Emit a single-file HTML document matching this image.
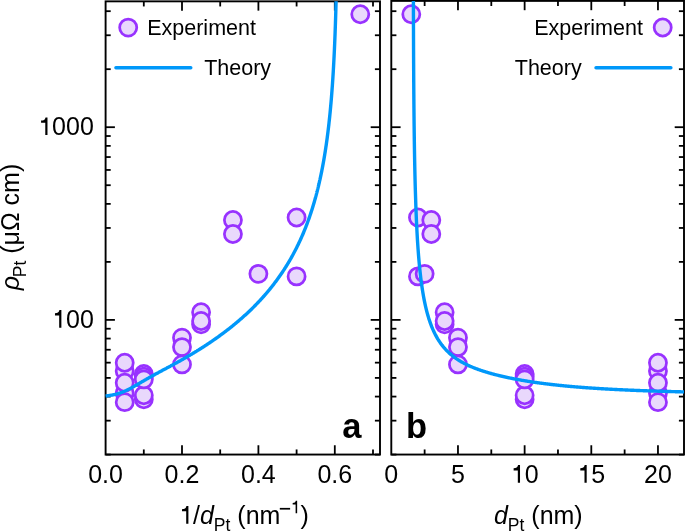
<!DOCTYPE html>
<html><head><meta charset="utf-8"><style>
html,body{margin:0;padding:0;background:#fff;}
body{width:685px;height:532px;overflow:hidden;font-family:"Liberation Sans",sans-serif;}
svg{display:block;will-change:transform;}
.one{fill:transparent;}
</style></head><body>
<svg width="685" height="532" viewBox="0 0 685 532">
<rect width="685" height="532" fill="#fff"/>
<defs>
<clipPath id="ca"><rect x="105.60" y="1.35" width="274.40" height="453.20"/></clipPath>
<clipPath id="cb"><rect x="391.30" y="0.90" width="292.70" height="453.65"/></clipPath>
<clipPath id="la"><rect x="104.8" y="1.35" width="275.20" height="453.20"/></clipPath>
</defs>
<line x1="105.60" y1="319.90" x2="114.90" y2="319.90" stroke="#000" stroke-width="1.8"/>
<line x1="380.00" y1="319.90" x2="370.70" y2="319.90" stroke="#000" stroke-width="1.8"/>
<line x1="105.60" y1="127.20" x2="114.90" y2="127.20" stroke="#000" stroke-width="1.8"/>
<line x1="380.00" y1="127.20" x2="370.70" y2="127.20" stroke="#000" stroke-width="1.8"/>
<line x1="105.60" y1="454.59" x2="110.70" y2="454.59" stroke="#000" stroke-width="1.8"/>
<line x1="380.00" y1="454.59" x2="374.90" y2="454.59" stroke="#000" stroke-width="1.8"/>
<line x1="105.60" y1="420.66" x2="110.70" y2="420.66" stroke="#000" stroke-width="1.8"/>
<line x1="380.00" y1="420.66" x2="374.90" y2="420.66" stroke="#000" stroke-width="1.8"/>
<line x1="105.60" y1="396.58" x2="110.70" y2="396.58" stroke="#000" stroke-width="1.8"/>
<line x1="380.00" y1="396.58" x2="374.90" y2="396.58" stroke="#000" stroke-width="1.8"/>
<line x1="105.60" y1="377.91" x2="110.70" y2="377.91" stroke="#000" stroke-width="1.8"/>
<line x1="380.00" y1="377.91" x2="374.90" y2="377.91" stroke="#000" stroke-width="1.8"/>
<line x1="105.60" y1="362.65" x2="110.70" y2="362.65" stroke="#000" stroke-width="1.8"/>
<line x1="380.00" y1="362.65" x2="374.90" y2="362.65" stroke="#000" stroke-width="1.8"/>
<line x1="105.60" y1="349.75" x2="110.70" y2="349.75" stroke="#000" stroke-width="1.8"/>
<line x1="380.00" y1="349.75" x2="374.90" y2="349.75" stroke="#000" stroke-width="1.8"/>
<line x1="105.60" y1="338.57" x2="110.70" y2="338.57" stroke="#000" stroke-width="1.8"/>
<line x1="380.00" y1="338.57" x2="374.90" y2="338.57" stroke="#000" stroke-width="1.8"/>
<line x1="105.60" y1="328.72" x2="110.70" y2="328.72" stroke="#000" stroke-width="1.8"/>
<line x1="380.00" y1="328.72" x2="374.90" y2="328.72" stroke="#000" stroke-width="1.8"/>
<line x1="105.60" y1="261.89" x2="110.70" y2="261.89" stroke="#000" stroke-width="1.8"/>
<line x1="380.00" y1="261.89" x2="374.90" y2="261.89" stroke="#000" stroke-width="1.8"/>
<line x1="105.60" y1="227.96" x2="110.70" y2="227.96" stroke="#000" stroke-width="1.8"/>
<line x1="380.00" y1="227.96" x2="374.90" y2="227.96" stroke="#000" stroke-width="1.8"/>
<line x1="105.60" y1="203.88" x2="110.70" y2="203.88" stroke="#000" stroke-width="1.8"/>
<line x1="380.00" y1="203.88" x2="374.90" y2="203.88" stroke="#000" stroke-width="1.8"/>
<line x1="105.60" y1="185.21" x2="110.70" y2="185.21" stroke="#000" stroke-width="1.8"/>
<line x1="380.00" y1="185.21" x2="374.90" y2="185.21" stroke="#000" stroke-width="1.8"/>
<line x1="105.60" y1="169.95" x2="110.70" y2="169.95" stroke="#000" stroke-width="1.8"/>
<line x1="380.00" y1="169.95" x2="374.90" y2="169.95" stroke="#000" stroke-width="1.8"/>
<line x1="105.60" y1="157.05" x2="110.70" y2="157.05" stroke="#000" stroke-width="1.8"/>
<line x1="380.00" y1="157.05" x2="374.90" y2="157.05" stroke="#000" stroke-width="1.8"/>
<line x1="105.60" y1="145.87" x2="110.70" y2="145.87" stroke="#000" stroke-width="1.8"/>
<line x1="380.00" y1="145.87" x2="374.90" y2="145.87" stroke="#000" stroke-width="1.8"/>
<line x1="105.60" y1="136.02" x2="110.70" y2="136.02" stroke="#000" stroke-width="1.8"/>
<line x1="380.00" y1="136.02" x2="374.90" y2="136.02" stroke="#000" stroke-width="1.8"/>
<line x1="105.60" y1="69.19" x2="110.70" y2="69.19" stroke="#000" stroke-width="1.8"/>
<line x1="380.00" y1="69.19" x2="374.90" y2="69.19" stroke="#000" stroke-width="1.8"/>
<line x1="105.60" y1="35.26" x2="110.70" y2="35.26" stroke="#000" stroke-width="1.8"/>
<line x1="380.00" y1="35.26" x2="374.90" y2="35.26" stroke="#000" stroke-width="1.8"/>
<line x1="105.60" y1="11.18" x2="110.70" y2="11.18" stroke="#000" stroke-width="1.8"/>
<line x1="380.00" y1="11.18" x2="374.90" y2="11.18" stroke="#000" stroke-width="1.8"/>
<line x1="391.30" y1="319.90" x2="400.60" y2="319.90" stroke="#000" stroke-width="1.8"/>
<line x1="684.00" y1="319.90" x2="674.70" y2="319.90" stroke="#000" stroke-width="1.8"/>
<line x1="391.30" y1="127.20" x2="400.60" y2="127.20" stroke="#000" stroke-width="1.8"/>
<line x1="684.00" y1="127.20" x2="674.70" y2="127.20" stroke="#000" stroke-width="1.8"/>
<line x1="391.30" y1="454.59" x2="396.40" y2="454.59" stroke="#000" stroke-width="1.8"/>
<line x1="684.00" y1="454.59" x2="678.90" y2="454.59" stroke="#000" stroke-width="1.8"/>
<line x1="391.30" y1="420.66" x2="396.40" y2="420.66" stroke="#000" stroke-width="1.8"/>
<line x1="684.00" y1="420.66" x2="678.90" y2="420.66" stroke="#000" stroke-width="1.8"/>
<line x1="391.30" y1="396.58" x2="396.40" y2="396.58" stroke="#000" stroke-width="1.8"/>
<line x1="684.00" y1="396.58" x2="678.90" y2="396.58" stroke="#000" stroke-width="1.8"/>
<line x1="391.30" y1="377.91" x2="396.40" y2="377.91" stroke="#000" stroke-width="1.8"/>
<line x1="684.00" y1="377.91" x2="678.90" y2="377.91" stroke="#000" stroke-width="1.8"/>
<line x1="391.30" y1="362.65" x2="396.40" y2="362.65" stroke="#000" stroke-width="1.8"/>
<line x1="684.00" y1="362.65" x2="678.90" y2="362.65" stroke="#000" stroke-width="1.8"/>
<line x1="391.30" y1="349.75" x2="396.40" y2="349.75" stroke="#000" stroke-width="1.8"/>
<line x1="684.00" y1="349.75" x2="678.90" y2="349.75" stroke="#000" stroke-width="1.8"/>
<line x1="391.30" y1="338.57" x2="396.40" y2="338.57" stroke="#000" stroke-width="1.8"/>
<line x1="684.00" y1="338.57" x2="678.90" y2="338.57" stroke="#000" stroke-width="1.8"/>
<line x1="391.30" y1="328.72" x2="396.40" y2="328.72" stroke="#000" stroke-width="1.8"/>
<line x1="684.00" y1="328.72" x2="678.90" y2="328.72" stroke="#000" stroke-width="1.8"/>
<line x1="391.30" y1="261.89" x2="396.40" y2="261.89" stroke="#000" stroke-width="1.8"/>
<line x1="684.00" y1="261.89" x2="678.90" y2="261.89" stroke="#000" stroke-width="1.8"/>
<line x1="391.30" y1="227.96" x2="396.40" y2="227.96" stroke="#000" stroke-width="1.8"/>
<line x1="684.00" y1="227.96" x2="678.90" y2="227.96" stroke="#000" stroke-width="1.8"/>
<line x1="391.30" y1="203.88" x2="396.40" y2="203.88" stroke="#000" stroke-width="1.8"/>
<line x1="684.00" y1="203.88" x2="678.90" y2="203.88" stroke="#000" stroke-width="1.8"/>
<line x1="391.30" y1="185.21" x2="396.40" y2="185.21" stroke="#000" stroke-width="1.8"/>
<line x1="684.00" y1="185.21" x2="678.90" y2="185.21" stroke="#000" stroke-width="1.8"/>
<line x1="391.30" y1="169.95" x2="396.40" y2="169.95" stroke="#000" stroke-width="1.8"/>
<line x1="684.00" y1="169.95" x2="678.90" y2="169.95" stroke="#000" stroke-width="1.8"/>
<line x1="391.30" y1="157.05" x2="396.40" y2="157.05" stroke="#000" stroke-width="1.8"/>
<line x1="684.00" y1="157.05" x2="678.90" y2="157.05" stroke="#000" stroke-width="1.8"/>
<line x1="391.30" y1="145.87" x2="396.40" y2="145.87" stroke="#000" stroke-width="1.8"/>
<line x1="684.00" y1="145.87" x2="678.90" y2="145.87" stroke="#000" stroke-width="1.8"/>
<line x1="391.30" y1="136.02" x2="396.40" y2="136.02" stroke="#000" stroke-width="1.8"/>
<line x1="684.00" y1="136.02" x2="678.90" y2="136.02" stroke="#000" stroke-width="1.8"/>
<line x1="391.30" y1="69.19" x2="396.40" y2="69.19" stroke="#000" stroke-width="1.8"/>
<line x1="684.00" y1="69.19" x2="678.90" y2="69.19" stroke="#000" stroke-width="1.8"/>
<line x1="391.30" y1="35.26" x2="396.40" y2="35.26" stroke="#000" stroke-width="1.8"/>
<line x1="684.00" y1="35.26" x2="678.90" y2="35.26" stroke="#000" stroke-width="1.8"/>
<line x1="391.30" y1="11.18" x2="396.40" y2="11.18" stroke="#000" stroke-width="1.8"/>
<line x1="684.00" y1="11.18" x2="678.90" y2="11.18" stroke="#000" stroke-width="1.8"/>
<line x1="182.00" y1="454.55" x2="182.00" y2="445.25" stroke="#000" stroke-width="1.8"/>
<line x1="182.00" y1="1.35" x2="182.00" y2="10.65" stroke="#000" stroke-width="1.8"/>
<line x1="258.40" y1="454.55" x2="258.40" y2="445.25" stroke="#000" stroke-width="1.8"/>
<line x1="258.40" y1="1.35" x2="258.40" y2="10.65" stroke="#000" stroke-width="1.8"/>
<line x1="334.80" y1="454.55" x2="334.80" y2="445.25" stroke="#000" stroke-width="1.8"/>
<line x1="334.80" y1="1.35" x2="334.80" y2="10.65" stroke="#000" stroke-width="1.8"/>
<line x1="143.80" y1="454.55" x2="143.80" y2="449.45" stroke="#000" stroke-width="1.8"/>
<line x1="143.80" y1="1.35" x2="143.80" y2="6.45" stroke="#000" stroke-width="1.8"/>
<line x1="220.20" y1="454.55" x2="220.20" y2="449.45" stroke="#000" stroke-width="1.8"/>
<line x1="220.20" y1="1.35" x2="220.20" y2="6.45" stroke="#000" stroke-width="1.8"/>
<line x1="296.60" y1="454.55" x2="296.60" y2="449.45" stroke="#000" stroke-width="1.8"/>
<line x1="296.60" y1="1.35" x2="296.60" y2="6.45" stroke="#000" stroke-width="1.8"/>
<line x1="373.00" y1="454.55" x2="373.00" y2="449.45" stroke="#000" stroke-width="1.8"/>
<line x1="373.00" y1="1.35" x2="373.00" y2="6.45" stroke="#000" stroke-width="1.8"/>
<line x1="457.97" y1="454.55" x2="457.97" y2="445.25" stroke="#000" stroke-width="1.8"/>
<line x1="457.97" y1="0.90" x2="457.97" y2="10.20" stroke="#000" stroke-width="1.8"/>
<line x1="524.63" y1="454.55" x2="524.63" y2="445.25" stroke="#000" stroke-width="1.8"/>
<line x1="524.63" y1="0.90" x2="524.63" y2="10.20" stroke="#000" stroke-width="1.8"/>
<line x1="591.30" y1="454.55" x2="591.30" y2="445.25" stroke="#000" stroke-width="1.8"/>
<line x1="591.30" y1="0.90" x2="591.30" y2="10.20" stroke="#000" stroke-width="1.8"/>
<line x1="657.96" y1="454.55" x2="657.96" y2="445.25" stroke="#000" stroke-width="1.8"/>
<line x1="657.96" y1="0.90" x2="657.96" y2="10.20" stroke="#000" stroke-width="1.8"/>
<line x1="424.63" y1="454.55" x2="424.63" y2="449.45" stroke="#000" stroke-width="1.8"/>
<line x1="424.63" y1="0.90" x2="424.63" y2="6.00" stroke="#000" stroke-width="1.8"/>
<line x1="491.30" y1="454.55" x2="491.30" y2="449.45" stroke="#000" stroke-width="1.8"/>
<line x1="491.30" y1="0.90" x2="491.30" y2="6.00" stroke="#000" stroke-width="1.8"/>
<line x1="557.96" y1="454.55" x2="557.96" y2="449.45" stroke="#000" stroke-width="1.8"/>
<line x1="557.96" y1="0.90" x2="557.96" y2="6.00" stroke="#000" stroke-width="1.8"/>
<line x1="624.63" y1="454.55" x2="624.63" y2="449.45" stroke="#000" stroke-width="1.8"/>
<line x1="624.63" y1="0.90" x2="624.63" y2="6.00" stroke="#000" stroke-width="1.8"/>
<rect x="105.60" y="1.35" width="274.40" height="453.20" fill="none" stroke="#000" stroke-width="1.9"/>
<rect x="391.30" y="0.90" width="292.70" height="453.65" fill="none" stroke="#000" stroke-width="1.9"/>
<g clip-path="url(#ca)">
<circle cx="296.60" cy="217.48" r="8.55" fill="#E9D8FC" stroke="#9832FF" stroke-width="2.75"/>
<circle cx="296.60" cy="276.38" r="8.55" fill="#E9D8FC" stroke="#9832FF" stroke-width="2.75"/>
<circle cx="258.40" cy="273.82" r="8.55" fill="#E9D8FC" stroke="#9832FF" stroke-width="2.75"/>
<circle cx="232.93" cy="219.99" r="8.55" fill="#E9D8FC" stroke="#9832FF" stroke-width="2.75"/>
<circle cx="232.93" cy="233.98" r="8.55" fill="#E9D8FC" stroke="#9832FF" stroke-width="2.75"/>
<circle cx="201.10" cy="312.26" r="8.55" fill="#E9D8FC" stroke="#9832FF" stroke-width="2.75"/>
<circle cx="201.10" cy="324.31" r="8.55" fill="#E9D8FC" stroke="#9832FF" stroke-width="2.75"/>
<circle cx="201.10" cy="321.01" r="8.55" fill="#E9D8FC" stroke="#9832FF" stroke-width="2.75"/>
<circle cx="182.00" cy="337.66" r="8.55" fill="#E9D8FC" stroke="#9832FF" stroke-width="2.75"/>
<circle cx="182.00" cy="347.12" r="8.55" fill="#E9D8FC" stroke="#9832FF" stroke-width="2.75"/>
<circle cx="182.00" cy="364.41" r="8.55" fill="#E9D8FC" stroke="#9832FF" stroke-width="2.75"/>
<circle cx="143.80" cy="399.28" r="8.55" fill="#E9D8FC" stroke="#9832FF" stroke-width="2.75"/>
<circle cx="143.80" cy="395.25" r="8.55" fill="#E9D8FC" stroke="#9832FF" stroke-width="2.75"/>
<circle cx="143.80" cy="373.97" r="8.55" fill="#E9D8FC" stroke="#9832FF" stroke-width="2.75"/>
<circle cx="143.80" cy="376.58" r="8.55" fill="#E9D8FC" stroke="#9832FF" stroke-width="2.75"/>
<circle cx="143.80" cy="379.44" r="8.55" fill="#E9D8FC" stroke="#9832FF" stroke-width="2.75"/>
<circle cx="124.70" cy="370.97" r="8.55" fill="#E9D8FC" stroke="#9832FF" stroke-width="2.75"/>
<circle cx="124.70" cy="393.00" r="8.55" fill="#E9D8FC" stroke="#9832FF" stroke-width="2.75"/>
<circle cx="124.70" cy="362.71" r="8.55" fill="#E9D8FC" stroke="#9832FF" stroke-width="2.75"/>
<circle cx="124.70" cy="382.76" r="8.55" fill="#E9D8FC" stroke="#9832FF" stroke-width="2.75"/>
<circle cx="124.70" cy="402.16" r="8.55" fill="#E9D8FC" stroke="#9832FF" stroke-width="2.75"/>
<circle cx="360.27" cy="14.30" r="8.55" fill="#E9D8FC" stroke="#9832FF" stroke-width="2.75"/>
</g>
<path clip-path="url(#la)" d="M105.60,396.08 L106.13,396.00 L106.65,395.92 L107.18,395.84 L107.71,395.76 L108.23,395.69 L108.76,395.61 L109.29,395.52 L109.81,395.44 L110.34,395.36 L110.87,395.27 L111.39,395.17 L111.92,395.08 L112.45,394.98 L112.97,394.88 L113.50,394.77 L114.03,394.66 L114.55,394.54 L115.08,394.42 L115.60,394.29 L116.13,394.16 L116.66,394.02 L117.18,393.88 L117.71,393.73 L118.24,393.57 L118.76,393.41 L119.29,393.24 L119.82,393.07 L120.34,392.89 L120.87,392.71 L121.40,392.52 L121.92,392.32 L122.45,392.12 L122.98,391.91 L123.50,391.69 L124.03,391.47 L124.56,391.25 L125.08,391.02 L125.61,390.78 L126.14,390.54 L126.66,390.29 L127.19,390.04 L127.72,389.78 L128.24,389.52 L128.77,389.26 L129.30,388.99 L129.82,388.72 L130.35,388.44 L130.88,388.16 L131.40,387.88 L131.93,387.59 L132.45,387.30 L132.98,387.01 L133.51,386.72 L134.03,386.42 L134.56,386.12 L135.09,385.82 L135.61,385.52 L136.14,385.22 L136.67,384.91 L137.19,384.61 L137.72,384.30 L138.25,383.99 L138.77,383.68 L139.30,383.38 L139.83,383.07 L140.35,382.76 L140.88,382.45 L141.41,382.14 L141.93,381.83 L142.46,381.52 L142.99,381.21 L143.51,380.91 L144.04,380.60 L144.57,380.29 L145.09,379.99 L145.62,379.68 L146.15,379.38 L146.67,379.07 L147.20,378.77 L147.73,378.47 L148.25,378.17 L148.78,377.87 L149.31,377.57 L149.83,377.27 L150.36,376.98 L150.88,376.68 L151.41,376.39 L151.94,376.09 L152.46,375.80 L152.99,375.51 L153.52,375.22 L154.04,374.92 L154.57,374.64 L155.10,374.35 L155.62,374.06 L156.15,373.77 L156.68,373.48 L157.20,373.20 L157.73,372.91 L158.26,372.63 L158.78,372.34 L159.31,372.06 L159.84,371.78 L160.36,371.49 L160.89,371.21 L161.42,370.93 L161.94,370.65 L162.47,370.37 L163.00,370.08 L163.52,369.80 L164.05,369.52 L164.58,369.24 L165.10,368.96 L165.63,368.68 L166.16,368.40 L166.68,368.11 L167.21,367.83 L167.73,367.55 L168.26,367.27 L168.79,366.99 L169.31,366.70 L169.84,366.42 L170.37,366.14 L170.89,365.85 L171.42,365.57 L171.95,365.29 L172.47,365.00 L173.00,364.72 L173.53,364.43 L174.05,364.14 L174.58,363.86 L175.11,363.57 L175.63,363.28 L176.16,362.99 L176.69,362.70 L177.21,362.41 L177.74,362.12 L178.27,361.83 L178.79,361.54 L179.32,361.24 L179.85,360.95 L180.37,360.66 L180.90,360.36 L181.43,360.06 L181.95,359.77 L182.48,359.47 L183.01,359.17 L183.53,358.87 L184.06,358.57 L184.58,358.27 L185.11,357.97 L185.64,357.67 L186.16,357.36 L186.69,357.06 L187.22,356.75 L187.74,356.45 L188.27,356.14 L188.80,355.83 L189.32,355.52 L189.85,355.21 L190.38,354.90 L190.90,354.59 L191.43,354.27 L191.96,353.96 L192.48,353.64 L193.01,353.33 L193.54,353.01 L194.06,352.69 L194.59,352.37 L195.12,352.05 L195.64,351.73 L196.17,351.41 L196.70,351.09 L197.22,350.76 L197.75,350.43 L198.28,350.11 L198.80,349.78 L199.33,349.45 L199.86,349.12 L200.38,348.79 L200.91,348.46 L201.44,348.12 L201.96,347.79 L202.49,347.45 L203.01,347.11 L203.54,346.77 L204.07,346.44 L204.59,346.09 L205.12,345.75 L205.65,345.41 L206.17,345.06 L206.70,344.72 L207.23,344.37 L207.75,344.02 L208.28,343.67 L208.81,343.32 L209.33,342.97 L209.86,342.61 L210.39,342.26 L210.91,341.90 L211.44,341.54 L211.97,341.19 L212.49,340.82 L213.02,340.46 L213.55,340.10 L214.07,339.73 L214.60,339.37 L215.13,339.00 L215.65,338.63 L216.18,338.26 L216.71,337.89 L217.23,337.51 L217.76,337.14 L218.29,336.76 L218.81,336.38 L219.34,336.00 L219.86,335.62 L220.39,335.24 L220.92,334.85 L221.44,334.47 L221.97,334.08 L222.50,333.69 L223.02,333.30 L223.55,332.91 L224.08,332.51 L224.60,332.12 L225.13,331.72 L225.66,331.32 L226.18,330.92 L226.71,330.51 L227.24,330.11 L227.76,329.70 L228.29,329.29 L228.82,328.88 L229.34,328.47 L229.87,328.06 L230.40,327.64 L230.92,327.22 L231.45,326.80 L231.98,326.38 L232.50,325.95 L233.03,325.53 L233.56,325.10 L234.08,324.67 L234.61,324.24 L235.14,323.80 L235.66,323.37 L236.19,322.93 L236.72,322.49 L237.24,322.05 L237.77,321.60 L238.29,321.15 L238.82,320.70 L239.35,320.25 L239.87,319.80 L240.40,319.34 L240.93,318.88 L241.45,318.42 L241.98,317.96 L242.51,317.49 L243.03,317.02 L243.56,316.55 L244.09,316.08 L244.61,315.60 L245.14,315.13 L245.67,314.64 L246.19,314.16 L246.72,313.67 L247.25,313.19 L247.77,312.69 L248.30,312.20 L248.83,311.70 L249.35,311.20 L249.88,310.70 L250.41,310.19 L250.93,309.68 L251.46,309.17 L251.99,308.66 L252.51,308.14 L253.04,307.62 L253.57,307.10 L254.09,306.57 L254.62,306.04 L255.14,305.51 L255.67,304.97 L256.20,304.43 L256.72,303.89 L257.25,303.34 L257.78,302.79 L258.30,302.24 L258.83,301.68 L259.36,301.12 L259.88,300.55 L260.41,299.99 L260.94,299.41 L261.46,298.84 L261.99,298.26 L262.52,297.68 L263.04,297.09 L263.57,296.50 L264.10,295.90 L264.62,295.30 L265.15,294.70 L265.68,294.09 L266.20,293.48 L266.73,292.86 L267.26,292.24 L267.78,291.62 L268.31,290.99 L268.84,290.35 L269.36,289.72 L269.89,289.07 L270.42,288.42 L270.94,287.77 L271.47,287.11 L271.99,286.45 L272.52,285.78 L273.05,285.10 L273.57,284.42 L274.10,283.74 L274.63,283.05 L275.15,282.35 L275.68,281.65 L276.21,280.94 L276.73,280.23 L277.26,279.51 L277.79,278.79 L278.31,278.06 L278.84,277.32 L279.37,276.57 L279.89,275.82 L280.42,275.06 L280.95,274.30 L281.47,273.53 L282.00,272.75 L282.53,271.97 L283.05,271.17 L283.58,270.37 L284.11,269.57 L284.63,268.75 L285.16,267.93 L285.69,267.10 L286.21,266.26 L286.74,265.41 L287.27,264.55 L287.79,263.69 L288.32,262.81 L288.85,261.93 L289.37,261.04 L289.90,260.13 L290.42,259.22 L290.95,258.30 L291.48,257.37 L292.00,256.43 L292.53,255.47 L293.06,254.51 L293.58,253.53 L294.11,252.55 L294.64,251.55 L295.16,250.54 L295.69,249.52 L296.22,248.48 L296.74,247.44 L297.27,246.37 L297.80,245.30 L298.32,244.21 L298.85,243.11 L299.38,241.99 L299.90,240.86 L300.43,239.71 L300.96,238.55 L301.48,237.37 L302.01,236.17 L302.54,234.96 L303.06,233.72 L303.59,232.47 L304.12,231.20 L304.64,229.91 L305.17,228.60 L305.70,227.27 L306.22,225.92 L306.75,224.55 L307.27,223.15 L307.80,221.73 L308.33,220.28 L308.85,218.81 L309.38,217.32 L309.91,215.79 L310.43,214.24 L310.96,212.65 L311.49,211.04 L312.01,209.40 L312.54,207.72 L313.07,206.00 L313.59,204.25 L314.12,202.47 L314.65,200.64 L315.17,198.77 L315.70,196.86 L315.74,196.72 L315.84,196.33 L315.95,195.94 L316.05,195.55 L316.16,195.16 L316.27,194.76 L316.37,194.36 L316.48,193.96 L316.58,193.56 L316.69,193.16 L316.79,192.75 L316.90,192.35 L317.00,191.94 L317.11,191.53 L317.21,191.11 L317.32,190.70 L317.42,190.28 L317.53,189.86 L317.64,189.44 L317.74,189.01 L317.85,188.59 L317.95,188.16 L318.06,187.73 L318.16,187.29 L318.27,186.86 L318.37,186.42 L318.48,185.98 L318.58,185.54 L318.69,185.09 L318.79,184.65 L318.90,184.20 L319.01,183.75 L319.11,183.29 L319.22,182.83 L319.32,182.37 L319.43,181.91 L319.53,181.45 L319.64,180.98 L319.74,180.51 L319.85,180.04 L319.95,179.56 L320.06,179.08 L320.16,178.60 L320.27,178.12 L320.38,177.63 L320.48,177.14 L320.59,176.65 L320.69,176.16 L320.80,175.66 L320.90,175.16 L321.01,174.65 L321.11,174.15 L321.22,173.63 L321.32,173.12 L321.43,172.60 L321.53,172.08 L321.64,171.56 L321.75,171.03 L321.85,170.50 L321.96,169.97 L322.06,169.43 L322.17,168.89 L322.27,168.35 L322.38,167.80 L322.48,167.25 L322.59,166.69 L322.69,166.13 L322.80,165.57 L322.90,165.01 L323.01,164.43 L323.12,163.86 L323.22,163.28 L323.33,162.70 L323.43,162.11 L323.54,161.52 L323.64,160.93 L323.75,160.33 L323.85,159.72 L323.96,159.11 L324.06,158.50 L324.17,157.88 L324.27,157.26 L324.38,156.63 L324.49,156.00 L324.59,155.37 L324.70,154.72 L324.80,154.08 L324.91,153.43 L325.01,152.77 L325.12,152.11 L325.22,151.44 L325.33,150.77 L325.43,150.09 L325.54,149.40 L325.64,148.71 L325.75,148.02 L325.86,147.32 L325.96,146.61 L326.07,145.90 L326.17,145.18 L326.28,144.45 L326.38,143.72 L326.49,142.98 L326.59,142.23 L326.70,141.48 L326.80,140.72 L326.91,139.95 L327.01,139.18 L327.12,138.40 L327.23,137.61 L327.33,136.81 L327.44,136.01 L327.54,135.19 L327.65,134.37 L327.75,133.55 L327.86,132.71 L327.96,131.86 L328.07,131.01 L328.17,130.14 L328.28,129.27 L328.38,128.39 L328.49,127.50 L328.60,126.60 L328.70,125.69 L328.81,124.76 L328.91,123.83 L329.02,122.89 L329.12,121.94 L329.23,120.97 L329.33,120.00 L329.44,119.01 L329.54,118.01 L329.65,117.00 L329.75,115.97 L329.86,114.93 L329.97,113.88 L330.07,112.82 L330.18,111.74 L330.28,110.65 L330.39,109.54 L330.49,108.42 L330.60,107.28 L330.70,106.12 L330.81,104.95 L330.91,103.76 L331.02,102.56 L331.12,101.34 L331.23,100.10 L331.34,98.83 L331.44,97.55 L331.55,96.25 L331.65,94.93 L331.76,93.59 L331.86,92.22 L331.97,90.84 L332.07,89.42 L332.18,87.99 L332.28,86.52 L332.39,85.04 L332.49,83.52 L332.60,81.97 L332.71,80.40 L332.81,78.79 L332.92,77.16 L333.02,75.49 L333.13,73.78 L333.23,72.04 L333.34,70.26 L333.44,68.44 L333.55,66.58 L333.65,64.68 L333.76,62.73 L333.86,60.73 L333.97,58.69 L334.08,56.59 L334.18,54.44 L334.29,52.23 L334.39,49.95 L334.50,47.62 L334.60,45.21 L334.71,42.74 L334.81,40.18 L334.92,37.54 L335.02,34.82 L335.13,32.00 L335.23,29.08 L335.34,26.06 L335.45,22.91 L335.55,19.65 L335.66,16.24 L335.76,12.69 L335.87,8.98 L335.97,5.10 L336.08,1.02 L336.18,-3.28" fill="none" stroke="#0098FA" stroke-width="3.4" stroke-linejoin="round"/>
<g clip-path="url(#cb)">
<circle cx="417.97" cy="217.48" r="8.55" fill="#E9D8FC" stroke="#9832FF" stroke-width="2.75"/>
<circle cx="417.97" cy="276.38" r="8.55" fill="#E9D8FC" stroke="#9832FF" stroke-width="2.75"/>
<circle cx="424.63" cy="273.82" r="8.55" fill="#E9D8FC" stroke="#9832FF" stroke-width="2.75"/>
<circle cx="431.30" cy="219.99" r="8.55" fill="#E9D8FC" stroke="#9832FF" stroke-width="2.75"/>
<circle cx="431.30" cy="233.98" r="8.55" fill="#E9D8FC" stroke="#9832FF" stroke-width="2.75"/>
<circle cx="444.63" cy="312.26" r="8.55" fill="#E9D8FC" stroke="#9832FF" stroke-width="2.75"/>
<circle cx="444.63" cy="324.31" r="8.55" fill="#E9D8FC" stroke="#9832FF" stroke-width="2.75"/>
<circle cx="444.63" cy="321.01" r="8.55" fill="#E9D8FC" stroke="#9832FF" stroke-width="2.75"/>
<circle cx="457.97" cy="337.66" r="8.55" fill="#E9D8FC" stroke="#9832FF" stroke-width="2.75"/>
<circle cx="457.97" cy="347.12" r="8.55" fill="#E9D8FC" stroke="#9832FF" stroke-width="2.75"/>
<circle cx="457.97" cy="364.41" r="8.55" fill="#E9D8FC" stroke="#9832FF" stroke-width="2.75"/>
<circle cx="524.63" cy="399.28" r="8.55" fill="#E9D8FC" stroke="#9832FF" stroke-width="2.75"/>
<circle cx="524.63" cy="395.25" r="8.55" fill="#E9D8FC" stroke="#9832FF" stroke-width="2.75"/>
<circle cx="524.63" cy="373.97" r="8.55" fill="#E9D8FC" stroke="#9832FF" stroke-width="2.75"/>
<circle cx="524.63" cy="376.58" r="8.55" fill="#E9D8FC" stroke="#9832FF" stroke-width="2.75"/>
<circle cx="524.63" cy="379.44" r="8.55" fill="#E9D8FC" stroke="#9832FF" stroke-width="2.75"/>
<circle cx="657.96" cy="370.97" r="8.55" fill="#E9D8FC" stroke="#9832FF" stroke-width="2.75"/>
<circle cx="657.96" cy="393.00" r="8.55" fill="#E9D8FC" stroke="#9832FF" stroke-width="2.75"/>
<circle cx="657.96" cy="362.71" r="8.55" fill="#E9D8FC" stroke="#9832FF" stroke-width="2.75"/>
<circle cx="657.96" cy="382.76" r="8.55" fill="#E9D8FC" stroke="#9832FF" stroke-width="2.75"/>
<circle cx="657.96" cy="402.16" r="8.55" fill="#E9D8FC" stroke="#9832FF" stroke-width="2.75"/>
<circle cx="411.30" cy="14.30" r="8.55" fill="#E9D8FC" stroke="#9832FF" stroke-width="2.75"/>
<path d="M413.39,-1.11 L413.41,4.40 L413.42,9.56 L413.43,14.41 L413.45,18.98 L413.46,23.31 L413.47,27.41 L413.49,31.31 L413.50,35.04 L413.51,38.59 L413.53,42.00 L413.54,45.26 L413.55,48.40 L413.57,51.41 L413.58,54.32 L413.59,57.13 L413.61,59.83 L413.62,62.45 L413.64,64.99 L413.65,67.44 L413.66,69.82 L413.68,72.14 L413.69,74.38 L413.70,76.56 L413.72,78.69 L413.73,80.76 L413.74,82.77 L413.76,84.74 L413.77,86.65 L413.78,88.52 L413.80,90.35 L413.81,92.13 L413.82,93.88 L413.84,95.59 L413.85,97.26 L413.86,98.89 L413.88,100.49 L413.89,102.06 L413.90,103.60 L413.92,105.10 L413.93,106.58 L413.94,108.03 L413.96,109.46 L413.97,110.85 L413.98,112.23 L414.00,113.58 L414.01,114.90 L414.02,116.20 L414.04,117.48 L414.05,118.74 L414.06,119.98 L414.08,121.20 L414.09,122.40 L414.10,123.59 L414.12,124.75 L414.13,125.89 L414.15,127.02 L414.16,128.14 L414.17,129.23 L414.19,130.31 L414.20,131.38 L414.21,132.43 L414.23,133.46 L414.24,134.49 L414.25,135.49 L414.27,136.49 L414.28,137.47 L414.29,138.44 L414.31,139.40 L414.32,140.34 L414.33,141.28 L414.35,142.20 L414.36,143.11 L414.37,144.01 L414.39,144.89 L414.40,145.77 L414.41,146.64 L414.43,147.50 L414.44,148.35 L414.45,149.18 L414.47,150.01 L414.48,150.83 L414.49,151.64 L414.51,152.44 L414.52,153.24 L414.53,154.02 L414.55,154.80 L414.56,155.57 L414.57,156.33 L414.59,157.08 L414.60,157.82 L414.61,158.56 L414.63,159.29 L414.64,160.01 L414.66,160.73 L414.67,161.44 L414.68,162.14 L414.70,162.84 L414.71,163.52 L414.72,164.21 L414.74,164.88 L414.75,165.55 L414.76,166.21 L414.78,166.87 L414.79,167.52 L414.80,168.17 L414.82,168.81 L414.83,169.44 L414.84,170.07 L414.86,170.69 L414.87,171.31 L414.88,171.92 L414.90,172.53 L414.91,173.13 L414.92,173.73 L414.94,174.32 L414.95,174.91 L414.96,175.49 L414.98,176.07 L414.99,176.64 L415.00,177.21 L415.02,177.78 L415.03,178.34 L415.04,178.89 L415.06,179.44 L415.07,179.99 L415.08,180.53 L415.10,181.07 L415.11,181.60 L415.12,182.13 L415.14,182.66 L415.15,183.18 L415.17,183.70 L415.18,184.21 L415.19,184.73 L415.21,185.23 L415.22,185.74 L415.23,186.24 L415.25,186.73 L415.26,187.22 L415.27,187.71 L415.29,188.20 L415.30,188.68 L415.31,189.16 L415.86,206.23 L416.40,219.82 L416.95,231.04 L417.49,240.54 L418.04,248.74 L418.58,255.93 L419.13,262.30 L419.67,268.01 L420.22,273.16 L420.76,277.84 L421.31,282.12 L421.85,286.06 L422.40,289.70 L422.94,293.07 L423.49,296.20 L424.03,299.13 L424.58,301.87 L425.12,304.45 L425.67,306.87 L426.21,309.15 L426.76,311.31 L427.30,313.36 L427.85,315.30 L428.39,317.14 L428.94,318.89 L429.48,320.56 L430.03,322.16 L430.57,323.68 L431.12,325.14 L431.66,326.53 L432.21,327.87 L432.75,329.16 L433.30,330.39 L433.84,331.58 L434.39,332.72 L434.93,333.82 L435.48,334.88 L436.02,335.90 L436.57,336.89 L437.11,337.84 L437.66,338.76 L438.20,339.66 L438.75,340.52 L439.29,341.35 L439.84,342.16 L440.39,342.95 L440.93,343.71 L441.48,344.45 L442.02,345.17 L442.57,345.86 L443.11,346.54 L443.66,347.20 L444.20,347.84 L444.75,348.46 L445.29,349.07 L445.84,349.66 L446.38,350.24 L446.93,350.80 L447.47,351.34 L448.02,351.88 L448.56,352.40 L449.11,352.91 L449.65,353.40 L450.20,353.89 L450.74,354.36 L451.29,354.82 L451.83,355.27 L452.38,355.72 L452.92,356.15 L453.47,356.57 L454.01,356.99 L454.56,357.39 L455.10,357.79 L455.65,358.17 L456.19,358.56 L456.74,358.93 L457.28,359.29 L457.83,359.65 L458.37,360.00 L458.92,360.35 L459.46,360.68 L460.01,361.02 L460.55,361.34 L461.10,361.66 L461.64,361.97 L462.19,362.28 L462.73,362.58 L463.28,362.88 L463.82,363.17 L464.37,363.46 L464.91,363.74 L465.46,364.02 L466.00,364.29 L466.55,364.56 L467.09,364.82 L467.64,365.08 L468.18,365.34 L468.73,365.59 L469.27,365.84 L469.82,366.08 L470.36,366.33 L470.91,366.56 L471.45,366.80 L472.00,367.03 L472.54,367.25 L473.09,367.48 L473.63,367.70 L474.18,367.92 L474.72,368.13 L475.27,368.34 L475.81,368.55 L476.36,368.76 L476.90,368.96 L477.45,369.16 L477.99,369.36 L478.54,369.56 L479.08,369.75 L479.63,369.94 L480.17,370.13 L480.72,370.32 L481.26,370.50 L481.81,370.69 L482.35,370.87 L482.90,371.04 L483.44,371.22 L483.99,371.39 L484.53,371.57 L485.08,371.74 L485.62,371.91 L486.17,372.07 L486.71,372.24 L487.26,372.40 L487.80,372.56 L488.35,372.72 L488.89,372.88 L489.44,373.04 L489.98,373.19 L490.53,373.35 L491.07,373.50 L491.62,373.65 L492.16,373.80 L492.71,373.95 L493.25,374.10 L493.80,374.24 L494.34,374.38 L494.89,374.53 L495.44,374.67 L495.98,374.81 L496.53,374.95 L497.07,375.08 L497.62,375.22 L498.16,375.36 L498.71,375.49 L499.25,375.62 L499.80,375.75 L500.34,375.88 L500.89,376.01 L501.43,376.14 L501.98,376.27 L502.52,376.40 L503.07,376.52 L503.61,376.64 L504.16,376.77 L504.70,376.89 L505.25,377.01 L505.79,377.13 L506.34,377.25 L506.88,377.37 L507.43,377.48 L507.97,377.60 L508.52,377.71 L509.06,377.83 L509.61,377.94 L510.15,378.05 L510.70,378.17 L511.24,378.28 L511.79,378.39 L512.33,378.50 L512.88,378.60 L513.42,378.71 L513.97,378.82 L514.51,378.92 L515.06,379.03 L515.60,379.13 L516.15,379.23 L516.69,379.34 L517.24,379.44 L517.78,379.54 L518.33,379.64 L518.87,379.74 L519.42,379.84 L519.96,379.93 L520.51,380.03 L521.05,380.13 L521.60,380.22 L522.14,380.32 L522.69,380.41 L523.23,380.50 L523.78,380.60 L524.32,380.69 L524.87,380.78 L525.41,380.87 L525.96,380.96 L526.50,381.05 L527.05,381.14 L527.59,381.22 L528.14,381.31 L528.68,381.40 L529.23,381.48 L529.77,381.57 L530.32,381.65 L530.86,381.74 L531.41,381.82 L531.95,381.90 L532.50,381.98 L533.04,382.07 L533.59,382.15 L534.13,382.23 L534.68,382.31 L535.22,382.39 L535.77,382.46 L536.31,382.54 L536.86,382.62 L537.40,382.70 L537.95,382.77 L538.49,382.85 L539.04,382.92 L539.58,383.00 L540.13,383.07 L540.67,383.14 L541.22,383.22 L541.76,383.29 L542.31,383.36 L542.85,383.43 L543.40,383.50 L543.94,383.57 L544.49,383.64 L545.03,383.71 L545.58,383.78 L546.12,383.85 L546.67,383.91 L547.21,383.98 L547.76,384.05 L548.30,384.11 L548.85,384.18 L549.39,384.24 L549.94,384.31 L550.49,384.37 L551.03,384.44 L551.58,384.50 L552.12,384.56 L552.67,384.62 L553.21,384.69 L553.76,384.75 L554.30,384.81 L554.85,384.87 L555.39,384.93 L555.94,384.99 L556.48,385.05 L557.03,385.11 L557.57,385.16 L558.12,385.22 L558.66,385.28 L559.21,385.34 L559.75,385.39 L560.30,385.45 L560.84,385.50 L561.39,385.56 L561.93,385.62 L562.48,385.67 L563.02,385.72 L563.57,385.78 L564.11,385.83 L564.66,385.88 L565.20,385.94 L565.75,385.99 L566.29,386.04 L566.84,386.09 L567.38,386.14 L567.93,386.19 L568.47,386.24 L569.02,386.29 L569.56,386.34 L570.11,386.39 L570.65,386.44 L571.20,386.49 L571.74,386.54 L572.29,386.59 L572.83,386.63 L573.38,386.68 L573.92,386.73 L574.47,386.77 L575.01,386.82 L575.56,386.87 L576.10,386.91 L576.65,386.96 L577.19,387.00 L577.74,387.05 L578.28,387.09 L578.83,387.13 L579.37,387.18 L579.92,387.22 L580.46,387.26 L581.01,387.31 L581.55,387.35 L582.10,387.39 L582.64,387.43 L583.19,387.47 L583.73,387.52 L584.28,387.56 L584.82,387.60 L585.37,387.64 L585.91,387.68 L586.46,387.72 L587.00,387.76 L587.55,387.80 L588.09,387.84 L588.64,387.87 L589.18,387.91 L589.73,387.95 L590.27,387.99 L590.82,388.03 L591.36,388.06 L591.91,388.10 L592.45,388.14 L593.00,388.17 L593.54,388.21 L594.09,388.25 L594.63,388.28 L595.18,388.32 L595.72,388.35 L596.27,388.39 L596.81,388.42 L597.36,388.46 L597.90,388.49 L598.45,388.53 L598.99,388.56 L599.54,388.59 L600.08,388.63 L600.63,388.66 L601.17,388.69 L601.72,388.73 L602.26,388.76 L602.81,388.79 L603.35,388.82 L603.90,388.85 L604.45,388.89 L604.99,388.92 L605.54,388.95 L606.08,388.98 L606.63,389.01 L607.17,389.04 L607.72,389.07 L608.26,389.10 L608.81,389.13 L609.35,389.16 L609.90,389.19 L610.44,389.22 L610.99,389.25 L611.53,389.28 L612.08,389.31 L612.62,389.34 L613.17,389.37 L613.71,389.39 L614.26,389.42 L614.80,389.45 L615.35,389.48 L615.89,389.51 L616.44,389.53 L616.98,389.56 L617.53,389.59 L618.07,389.61 L618.62,389.64 L619.16,389.67 L619.71,389.69 L620.25,389.72 L620.80,389.75 L621.34,389.77 L621.89,389.80 L622.43,389.82 L622.98,389.85 L623.52,389.87 L624.07,389.90 L624.61,389.92 L625.16,389.95 L625.70,389.97 L626.25,390.00 L626.79,390.02 L627.34,390.04 L627.88,390.07 L628.43,390.09 L628.97,390.12 L629.52,390.14 L630.06,390.16 L630.61,390.19 L631.15,390.21 L631.70,390.23 L632.24,390.25 L632.79,390.28 L633.33,390.30 L633.88,390.32 L634.42,390.34 L634.97,390.37 L635.51,390.39 L636.06,390.41 L636.60,390.43 L637.15,390.45 L637.69,390.47 L638.24,390.50 L638.78,390.52 L639.33,390.54 L639.87,390.56 L640.42,390.58 L640.96,390.60 L641.51,390.62 L642.05,390.64 L642.60,390.66 L643.14,390.68 L643.69,390.70 L644.23,390.72 L644.78,390.74 L645.32,390.76 L645.87,390.78 L646.41,390.80 L646.96,390.82 L647.50,390.84 L648.05,390.86 L648.59,390.88 L649.14,390.89 L649.68,390.91 L650.23,390.93 L650.77,390.95 L651.32,390.97 L651.86,390.99 L652.41,391.01 L652.95,391.02 L653.50,391.04 L654.04,391.06 L654.59,391.08 L655.13,391.09 L655.68,391.11 L656.22,391.13 L656.77,391.15 L657.31,391.16 L657.86,391.18 L658.40,391.20 L658.95,391.21 L659.50,391.23 L660.04,391.25 L660.59,391.26 L661.13,391.28 L661.68,391.30 L662.22,391.31 L662.77,391.33 L663.31,391.35 L663.86,391.36 L664.40,391.38 L664.95,391.39 L665.49,391.41 L666.04,391.43 L666.58,391.44 L667.13,391.46 L667.67,391.47 L668.22,391.49 L668.76,391.50 L669.31,391.52 L669.85,391.53 L670.40,391.55 L670.94,391.56 L671.49,391.58 L672.03,391.59 L672.58,391.61 L673.12,391.62 L673.67,391.64 L674.21,391.65 L674.76,391.67 L675.30,391.68 L675.85,391.69 L676.39,391.71 L676.94,391.72 L677.48,391.74 L678.03,391.75 L678.57,391.76 L679.12,391.78 L679.66,391.79 L680.21,391.80 L680.75,391.82 L681.30,391.83 L681.84,391.84 L682.39,391.86 L682.93,391.87 L683.48,391.88 L684.02,391.90 L684.57,391.91 L685.11,391.92 L685.66,391.94 L686.20,391.95 L686.75,391.96 L687.29,391.97" fill="none" stroke="#0098FA" stroke-width="3.4" stroke-linejoin="round"/>
</g>
<text x="105.60" y="482.80" font-family="Liberation Sans, sans-serif" font-size="25" text-anchor="middle" >0.0</text>
<text x="182.00" y="482.80" font-family="Liberation Sans, sans-serif" font-size="25" text-anchor="middle" >0.2</text>
<text x="258.40" y="482.80" font-family="Liberation Sans, sans-serif" font-size="25" text-anchor="middle" >0.4</text>
<text x="334.80" y="482.80" font-family="Liberation Sans, sans-serif" font-size="25" text-anchor="middle" >0.6</text>
<text x="391.30" y="482.80" font-family="Liberation Sans, sans-serif" font-size="25" text-anchor="middle" >0</text>
<text x="457.97" y="482.80" font-family="Liberation Sans, sans-serif" font-size="25" text-anchor="middle" >5</text>
<text x="524.63" y="482.80" font-family="Liberation Sans, sans-serif" font-size="25" text-anchor="middle" ><tspan class="one">1</tspan>0</text>
<text x="591.30" y="482.80" font-family="Liberation Sans, sans-serif" font-size="25" text-anchor="middle" ><tspan class="one">1</tspan>5</text>
<text x="657.96" y="482.80" font-family="Liberation Sans, sans-serif" font-size="25" text-anchor="middle" >20</text>
<text x="93.80" y="135.10" font-family="Liberation Sans, sans-serif" font-size="25" text-anchor="end" ><tspan class="one">1</tspan>000</text>
<text x="93.80" y="327.80" font-family="Liberation Sans, sans-serif" font-size="25" text-anchor="end" ><tspan class="one">1</tspan>00</text>
<text x="243.90" y="523.7" font-family="Liberation Sans, sans-serif" font-size="25" text-anchor="middle"><tspan class="one">1</tspan>/<tspan font-style="italic">d</tspan><tspan font-size="17.5" dy="7">Pt</tspan><tspan dy="-7"> (nm</tspan><tspan font-size="17.5" dy="-10.5"><tspan class="one">−</tspan><tspan class="one">1</tspan></tspan><tspan dy="10.5">)</tspan></text>
<text x="538.30" y="523.7" font-family="Liberation Sans, sans-serif" font-size="25" text-anchor="middle"><tspan font-style="italic">d</tspan><tspan font-size="17.5" dy="7">Pt</tspan><tspan dy="-7"> (nm)</tspan></text>
<text transform="translate(18.8,227) rotate(-90)" font-family="Liberation Sans, sans-serif" font-size="25" text-anchor="middle"><tspan font-style="italic">ρ</tspan><tspan font-size="17.5" dx="-1.3" dy="7">Pt</tspan><tspan dy="-7"> (μΩ cm)</tspan></text>
<text x="351.90" y="437.60" font-family="Liberation Sans, sans-serif" font-size="34.5" text-anchor="middle" font-weight="bold">a</text>
<text x="416.60" y="437.60" font-family="Liberation Sans, sans-serif" font-size="34.5" text-anchor="middle" font-weight="bold">b</text>
<circle cx="128.20" cy="27.60" r="8.55" fill="#E9D8FC" stroke="#9832FF" stroke-width="2.75"/>
<text x="147.20" y="34.70" font-family="Liberation Sans, sans-serif" font-size="21.5" text-anchor="start" >Experiment</text>
<line x1="115.90" y1="67.80" x2="190.80" y2="67.80" stroke="#0098FA" stroke-width="3.4" stroke-linecap="round"/>
<text x="204.20" y="75.10" font-family="Liberation Sans, sans-serif" font-size="21.5" text-anchor="start" >Theory</text>
<circle cx="662.70" cy="27.50" r="8.55" fill="#E9D8FC" stroke="#9832FF" stroke-width="2.75"/>
<text x="642.90" y="34.70" font-family="Liberation Sans, sans-serif" font-size="21.5" text-anchor="end" >Experiment</text>
<line x1="596.00" y1="67.80" x2="670.90" y2="67.80" stroke="#0098FA" stroke-width="3.4" stroke-linecap="round"/>
<text x="581.70" y="75.10" font-family="Liberation Sans, sans-serif" font-size="21.5" text-anchor="end" >Theory</text>
<path transform="translate(510.72,482.80) scale(0.02500,-0.02500)" d="M372 0L284 0L284 494L116 494L116 580C220 584 276 614 294 709L372 709Z" fill="#000"/>
<path transform="translate(577.39,482.80) scale(0.02500,-0.02500)" d="M372 0L284 0L284 494L116 494L116 580C220 584 276 614 294 709L372 709Z" fill="#000"/>
<path transform="translate(38.18,135.10) scale(0.02500,-0.02500)" d="M372 0L284 0L284 494L116 494L116 580C220 584 276 614 294 709L372 709Z" fill="#000"/>
<path transform="translate(52.08,327.80) scale(0.02500,-0.02500)" d="M372 0L284 0L284 494L116 494L116 580C220 584 276 614 294 709L372 709Z" fill="#000"/>
<path transform="translate(179.10,523.70) scale(0.02500,-0.02500)" d="M372 0L284 0L284 494L116 494L116 580C220 584 276 614 294 709L372 709Z" fill="#000"/>
<rect x="279.81" y="507.90" width="10.3" height="1.7" fill="#000"/>
<path transform="translate(290.64,513.20) scale(0.01750,-0.01750)" d="M372 0L284 0L284 494L116 494L116 580C220 584 276 614 294 709L372 709Z" fill="#000"/>
</svg>
</body></html>
